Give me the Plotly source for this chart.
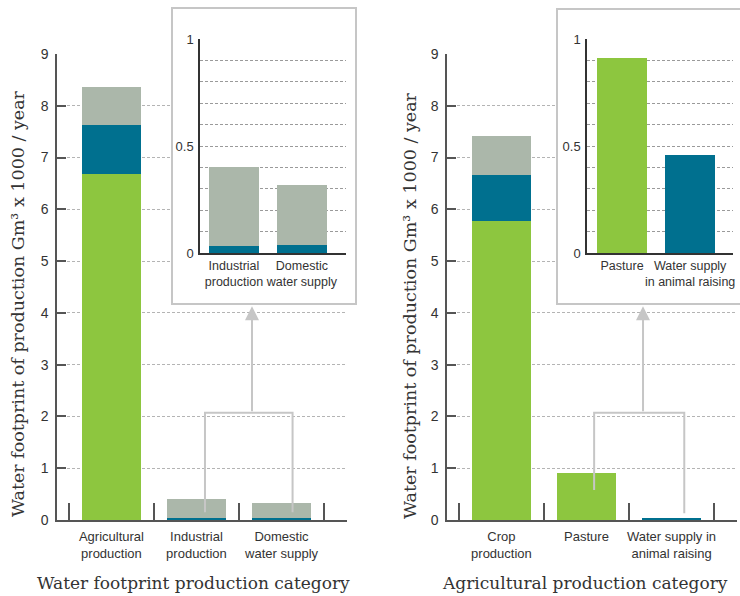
import plotly.graph_objects as go

# ---------------- data ----------------
left_cats = ["Agricultural<br>production", "Industrial<br>production", "Domestic<br>water supply"]
left_green = [6.68, 0.0, 0.0]
left_blue = [0.95, 0.033, 0.037]
left_grey = [0.73, 0.367, 0.283]

left_inset_cats = ["Industrial<br>production", "Domestic<br>water supply"]
left_inset_blue = [0.033, 0.037]
left_inset_grey = [0.367, 0.283]

right_cats = ["Crop<br>production", "Pasture", "Water supply in<br>animal raising"]
right_green = [5.77, 0.91, 0.0]
right_blue = [0.89, 0.0, 0.046]
right_grey = [0.75, 0.0, 0.0]

right_inset_cats = ["Pasture", "Water supply<br>in animal raising"]
right_inset_green = [0.91, 0.0]
right_inset_blue = [0.0, 0.46]

main_ticks = [0, 1, 2, 3, 4, 5, 6, 7, 8, 9]
inset_ticks = [0, 0.5, 1]
inset_tick_text = ["0", "0.5", "1"]

y_title = "Water footprint of production Gm³ x 1000 / year"
left_x_title = "Water footprint production category"
right_x_title = "Agricultural production category"

# ---------------- style ----------------
GREEN = "#8DC63F"
BLUE = "#00708F"
GREY = "#ABB7AA"
AXIS = "#555555"
TXT = "#333333"
SANS = "Liberation Sans, Arial, sans-serif"
SERIF = "DejaVu Serif, serif"
W, H = 740, 596


def px_x(p):
    return p / W


def px_y(p):
    return 1 - p / H


fig = go.Figure()


def add_stack(xaxis, yaxis, n, series, width):
    xs = list(range(n))
    for vals, col in series:
        fig.add_trace(go.Bar(x=xs, y=vals, marker=dict(color=col, line=dict(width=0)),
                             width=width, xaxis=xaxis, yaxis=yaxis, showlegend=False,
                             hoverinfo="skip"))


add_stack("x", "y", len(left_cats), [(left_green, GREEN), (left_blue, BLUE), (left_grey, GREY)], 0.69)
fig.add_trace(go.Scatter(x=[None], y=[None], xaxis="x2", yaxis="y2", showlegend=False))
add_stack("x3", "y3", len(left_inset_cats), [(left_inset_blue, BLUE), (left_inset_grey, GREY)], 0.735)
add_stack("x4", "y4", len(right_cats), [(right_green, GREEN), (right_blue, BLUE), (right_grey, GREY)], 0.70)
fig.add_trace(go.Scatter(x=[None], y=[None], xaxis="x5", yaxis="y5", showlegend=False))
add_stack("x6", "y6", len(right_inset_cats), [(right_inset_green, GREEN), (right_inset_blue, BLUE)], 0.735)


def main_x(dom, anchor, cats):
    return dict(domain=dom, anchor=anchor, range=[-0.64, 2.77], showline=True, linecolor=AXIS,
                linewidth=1.5, tickvals=list(range(len(cats))), ticktext=cats, ticks="",
                showgrid=False, zeroline=False, tickfont=dict(family=SANS, size=13, color=TXT),
                minor=dict(tickvals=[-0.5, 0.5, 1.5, 2.5], ticks="inside", ticklen=17,
                           tickwidth=1.5, tickcolor=AXIS, showgrid=False),
                tickangle=0, automargin=False, ticklabelstandoff=4, fixedrange=True)


def main_y(dom, anchor):
    return dict(domain=dom, anchor=anchor, range=[0, 9], tickvals=main_ticks, ticks="inside",
                ticklen=9, tickwidth=1.5, tickcolor=AXIS, showline=True, linecolor=AXIS,
                linewidth=1.5, showgrid=True, gridcolor="#B4B4B4", griddash="3px,2px",
                gridwidth=1, zeroline=False, tickfont=dict(family=SANS, size=14, color=TXT),
                automargin=False, ticklabelstandoff=4, fixedrange=True)


def inset_x(dom, anchor, cats, rng):
    return dict(domain=dom, anchor=anchor, range=rng, showline=True, linecolor="#333333",
                linewidth=1.5, tickvals=list(range(len(cats))), ticktext=cats, ticks="",
                showgrid=False, zeroline=False, tickfont=dict(family=SANS, size=12.5, color=TXT),
                tickangle=0, automargin=False, ticklabelstandoff=0, fixedrange=True)


def inset_y(dom, anchor):
    return dict(domain=dom, anchor=anchor, range=[0, 1], tickvals=inset_ticks,
                ticktext=inset_tick_text, ticks="", showline=True, linecolor="#333333",
                linewidth=1.5, showgrid=True, gridcolor="#9A9A9A", griddash="3px,2px",
                gridwidth=1, zeroline=False,
                minor=dict(dtick=0.1, showgrid=True, gridcolor="#9A9A9A", griddash="3px,2px",
                           gridwidth=1, ticks=""),
                tickfont=dict(family=SANS, size=13, color=TXT), ticklabelstandoff=2,
                automargin=False, fixedrange=True)


def hidden(dom, anchor):
    return dict(domain=dom, anchor=anchor, visible=False, range=[0, 1], fixedrange=True,
                automargin=False)


fig.update_layout(
    width=W, height=H, margin=dict(l=0, r=0, t=0, b=0, autoexpand=False),
    paper_bgcolor="white", plot_bgcolor="white", barmode="stack", showlegend=False,
    xaxis=main_x([px_x(57), px_x(347)], "y", left_cats),
    yaxis=main_y([px_y(520), px_y(54)], "x"),
    xaxis2=hidden([px_x(171), px_x(357)], "y2"),
    yaxis2=hidden([px_y(305), px_y(7)], "x2"),
    xaxis3=inset_x([px_x(200), px_x(346)], "y3", left_inset_cats, [-0.5, 1.65]),
    yaxis3=inset_y([px_y(253), px_y(39)], "x3"),
    xaxis4=main_x([px_x(447), px_x(737)], "y4", right_cats),
    yaxis4=main_y([px_y(520), px_y(54)], "x4"),
    xaxis5=hidden([px_x(556), 1.0], "y5"),
    yaxis5=hidden([px_y(305), px_y(8)], "x5"),
    xaxis6=inset_x([px_x(587), px_x(733)], "y6", right_inset_cats, [-0.515, 1.63]),
    yaxis6=inset_y([px_y(253), px_y(39)], "x6"),
)

FRAME = "#C6C6C6"
shapes = [
    dict(type="rect", xref="paper", yref="paper", x0=px_x(172), x1=px_x(356),
         y0=px_y(304), y1=px_y(8), line=dict(color=FRAME, width=2), layer="above"),
    dict(type="rect", xref="paper", yref="paper", x0=px_x(557), x1=1.01,
         y0=px_y(304), y1=px_y(9), line=dict(color=FRAME, width=2), layer="above"),
    # brackets
    dict(type="path", xref="x", yref="y", path="M 1.1,0.15 L 1.1,2.07 L 2.13,2.07 L 2.13,0.15",
         line=dict(color=FRAME, width=2), layer="above"),
    dict(type="path", xref="x4", yref="y4", path="M 1.09,0.58 L 1.09,2.07 L 2.15,2.07 L 2.15,0.13",
         line=dict(color=FRAME, width=2), layer="above"),
]
fig.update_layout(shapes=shapes)

annotations = [
    dict(x=1.653, y=4.13, xref="x", yref="y", ax=1.653, ay=2.07, axref="x", ayref="y",
         showarrow=True, arrowhead=2, arrowsize=1.4, arrowwidth=2, arrowcolor=FRAME, text=""),
    dict(x=1.665, y=4.13, xref="x4", yref="y4", ax=1.665, ay=2.07, axref="x4", ayref="y4",
         showarrow=True, arrowhead=2, arrowsize=1.4, arrowwidth=2, arrowcolor=FRAME, text=""),
    dict(x=px_x(18), y=px_y(304), xref="paper", yref="paper", text=y_title, textangle=-90,
         showarrow=False, xanchor="center", yanchor="middle",
         font=dict(family=SERIF, size=17.5, color=TXT)),
    dict(x=px_x(410), y=px_y(306), xref="paper", yref="paper", text=y_title, textangle=-90,
         showarrow=False, xanchor="center", yanchor="middle",
         font=dict(family=SERIF, size=17.5, color=TXT)),
    dict(x=px_x(193), y=px_y(583), xref="paper", yref="paper", text=left_x_title,
         showarrow=False, xanchor="center", yanchor="middle",
         font=dict(family=SERIF, size=17, color=TXT)),
    dict(x=px_x(585), y=px_y(583), xref="paper", yref="paper", text=right_x_title,
         showarrow=False, xanchor="center", yanchor="middle",
         font=dict(family=SERIF, size=17, color=TXT)),
]
fig.update_layout(annotations=annotations)

fig.write_html("out.html", config={"displayModeBar": False},
               post_script="document.body.style.margin='0';document.body.style.overflow='hidden';")
